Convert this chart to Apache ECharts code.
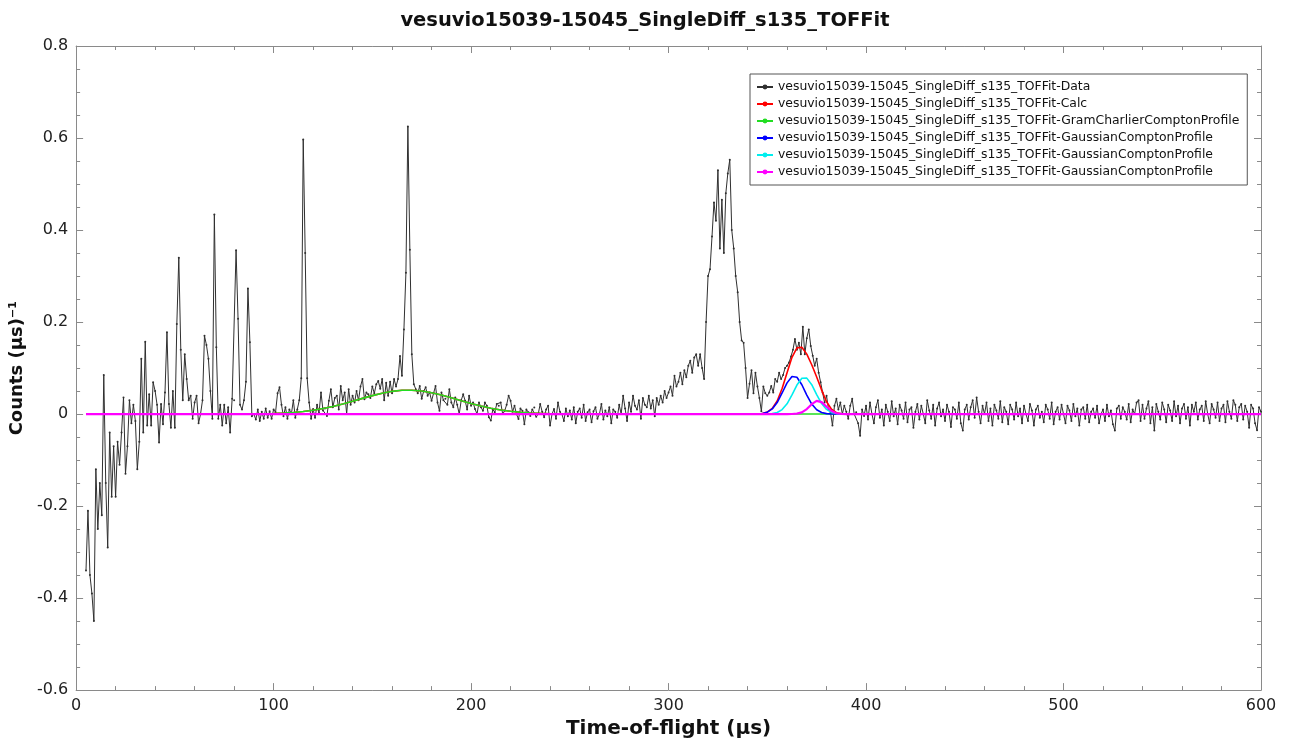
<!DOCTYPE html>
<html lang="en">
<head>
<meta charset="UTF-8">
<title>vesuvio15039-15045_SingleDiff_s135_TOFFit</title>
<script src="https://cdn.jsdelivr.net/npm/echarts@6/dist/echarts.min.js"></script>
<style>
    html, body { margin: 0; padding: 0; background: #fff; }
    #main { width: 1290px; height: 744px; }
</style>
</head>
<body>
<div id="main"></div>
<script>
// time-of-flight grid of the data (µs)
const tofStart = 5;
const tofStep = 1;

// measured counts, one per µs from 5 to 600
const counts = [
    -0.34, -0.21, -0.35, -0.39, -0.45,                                  // 5
    -0.12, -0.25, -0.15, -0.22, 0.085, -0.15, -0.29, -0.04, -0.18, -0.07, // 10
    -0.18, -0.06, -0.11, -0.04, 0.036, -0.13, -0.07, 0.03, -0.02, 0.02,  // 20
    -0.015, -0.12, -0.06, 0.12, -0.04, 0.157, -0.025, 0.043, -0.025, 0.069, // 30
    0.05, 0.02, -0.062, 0.022, -0.022, 0.047, 0.178, 0.022, -0.03, 0.05, // 40
    -0.03, 0.196, 0.34, 0.14, 0.03, 0.13, 0.076, 0.03, 0.04, -0.01,     // 50
    0.025, 0.04, -0.02, 0.0, 0.03, 0.17, 0.15, 0.12, 0.05, -0.01,       // 60
    0.434, 0.145, -0.01, 0.02, -0.025, 0.02, -0.02, 0.015, -0.04, 0.033, // 70
    0.03, 0.356, 0.207, 0.02, 0.01, 0.03, 0.07, 0.273, 0.156, -0.005,    // 80
    0.0, -0.012, 0.01, -0.015, 0.005, -0.01, 0.012, -0.008, 0.006, -0.01, // 90
    0.01, 0.004, 0.045, 0.058, 0.02, -0.005, 0.015, -0.01, 0.01, 0.0,    // 100
    0.03, -0.008, 0.01, 0.03, 0.078, 0.597, 0.35, 0.078, 0.025, -0.01,   // 110
    0.011, -0.008, 0.02, 0.002, 0.047, 0.008, 0.012, -0.004, 0.029, 0.054, // 120
    0.015, 0.035, 0.04, 0.01, 0.061, 0.03, 0.047, 0.0, 0.054, 0.02,      // 130
    0.04, 0.025, 0.05, 0.03, 0.06, 0.076, 0.032, 0.047, 0.043, 0.035,    // 140
    0.06, 0.045, 0.065, 0.072, 0.055, 0.076, 0.03, 0.068, 0.04, 0.07,    // 150
    0.045, 0.076, 0.06, 0.076, 0.126, 0.083, 0.184, 0.307, 0.625, 0.357, // 160
    0.13, 0.065, 0.054, 0.045, 0.061, 0.033, 0.05, 0.058, 0.04, 0.047,   // 170
    0.029, 0.045, 0.061, 0.025, 0.007, 0.047, 0.03, 0.033, 0.02, 0.054,  // 180
    0.025, 0.015, 0.036, 0.02, 0.0, 0.03, 0.043, 0.029, 0.01, 0.04,      // 190
    0.018, 0.025, 0.011, 0.0, 0.025, 0.015, 0.007, 0.025, 0.018, -0.007, // 200
    -0.014, 0.01, 0.004, 0.022, 0.018, 0.025, 0.0, 0.007, 0.02, 0.04,    // 210
    0.029, 0.005, 0.018, 0.0, -0.011, 0.012, 0.007, -0.022, 0.01, 0.004, // 220
    -0.004, 0.01, 0.014, -0.006, 0.0, 0.022, 0.005, -0.007, 0.01, 0.018, // 230
    -0.025, 0.0, 0.011, -0.01, 0.025, 0.005, 0.0, -0.015, 0.012, -0.005, // 240
    0.008, -0.012, 0.015, -0.02, 0.005, 0.012, -0.008, 0.02, -0.015, 0.004, // 250
    0.01, -0.018, 0.006, 0.015, -0.01, 0.0, 0.022, -0.012, 0.008, -0.005, // 260
    0.015, -0.02, 0.01, 0.005, -0.008, 0.02, 0.0, 0.04, 0.012, -0.015,   // 270
    0.025, 0.005, 0.04, 0.018, 0.01, 0.03, -0.01, 0.035, 0.02, 0.015,    // 280
    0.04, 0.012, 0.03, -0.005, 0.035, 0.02, 0.04, 0.025, 0.05, 0.035,    // 290
    0.047, 0.06, 0.04, 0.083, 0.06, 0.07, 0.09, 0.065, 0.095, 0.08,      // 300
    0.105, 0.116, 0.09, 0.123, 0.13, 0.105, 0.13, 0.1, 0.076, 0.2,       // 310
    0.3, 0.315, 0.386, 0.46, 0.42, 0.53, 0.36, 0.466, 0.35, 0.48,        // 320
    0.523, 0.553, 0.4, 0.36, 0.3, 0.265, 0.2, 0.16, 0.155, 0.1,          // 330
    0.035, 0.066, 0.095, 0.045, 0.09, 0.06, 0.035, 0.006, 0.06, 0.045,   // 340
    0.04, 0.047, 0.061, 0.047, 0.076, 0.07, 0.09, 0.076, 0.085, 0.1,     // 350
    0.105, 0.112, 0.125, 0.14, 0.163, 0.14, 0.155, 0.13, 0.19, 0.13,     // 360
    0.165, 0.184, 0.148, 0.127, 0.105, 0.12, 0.09, 0.069, 0.047, 0.025,  // 370
    0.04, 0.01, 0.004, -0.025, 0.018, 0.033, 0.01, 0.025, 0.0, 0.018,    // 380
    0.005, -0.01, 0.018, 0.033, 0.0, 0.004, -0.02, -0.047, 0.01, -0.004, // 390
    0.018, -0.012, 0.025, 0.0, -0.02, 0.015, 0.03, -0.008, 0.01, -0.025, // 400
    0.02, 0.005, -0.015, 0.028, -0.005, 0.012, -0.022, 0.02, 0.008, -0.01, // 410
    0.025, -0.018, 0.01, 0.015, -0.03, 0.005, 0.022, -0.012, 0.018, 0.0, // 420
    -0.02, 0.03, 0.008, -0.01, 0.02, -0.025, 0.012, 0.025, -0.005, 0.01, // 430
    -0.015, 0.02, 0.005, -0.028, 0.015, 0.01, -0.01, 0.025, -0.02, -0.036, // 440
    0.01, 0.02, -0.012, 0.015, 0.03, -0.008, 0.036, 0.005, -0.02, 0.018, // 450
    0.0, 0.025, -0.015, 0.012, -0.025, 0.02, 0.008, -0.01, 0.028, -0.018, // 460
    0.015, 0.005, -0.022, 0.02, 0.01, -0.012, 0.025, -0.005, 0.012, -0.02, // 470
    0.018, 0.0, -0.015, 0.022, 0.008, -0.025, 0.01, 0.018, -0.008, 0.005, // 480
    -0.018, 0.02, 0.01, -0.01, 0.025, -0.022, 0.005, 0.015, -0.012, 0.02, // 490
    0.0, -0.02, 0.018, 0.008, -0.015, 0.022, -0.005, 0.012, -0.025, 0.01, // 500
    0.015, -0.01, 0.02, -0.018, 0.005, 0.012, -0.008, 0.018, -0.02, 0.0, // 510
    0.01, -0.015, 0.02, -0.005, 0.008, -0.022, -0.036, 0.012, 0.018, -0.01, // 520
    0.015, 0.005, -0.012, 0.022, -0.018, 0.01, 0.0, 0.025, 0.03, -0.015, // 530
    0.02, -0.01, 0.012, 0.028, -0.02, 0.015, -0.036, 0.022, 0.005, -0.012, // 540
    0.025, 0.01, -0.018, 0.02, 0.008, -0.015, 0.028, -0.005, 0.018, -0.02, // 550
    0.012, 0.022, -0.01, 0.015, -0.025, 0.02, 0.005, 0.025, -0.012, 0.01, // 560
    0.018, -0.015, 0.028, 0.0, -0.02, 0.022, 0.01, -0.008, 0.025, -0.015, // 570
    0.012, 0.02, -0.018, 0.028, 0.005, -0.01, 0.03, 0.02, -0.015, 0.015, // 580
    0.022, -0.012, 0.018, 0.005, -0.03, 0.02, 0.012, -0.02, -0.035, 0.015, // 590
    0.005                                                                // 600
];

// fit curves, sampled where they change
const fitTof = [
    5, 85,
    90, 95, 100, 105, 110, 115, 120, 125, 130, 135, 140, 145, 150, 155, 160, 165, 170,
    175, 180, 185, 190, 195, 200, 205, 210, 215, 220, 225, 230, 235, 240, 245, 250, 255,
    340, 342.5, 345, 347.5, 350, 352.5, 355, 357.5, 360, 362.5, 365, 367.5, 370,
    372.5, 375, 377.5, 380, 382.5, 385, 387.5, 390, 392.5,
    600
];
const calcFit = [
    0, 0.0002,
    0.0004, 0.0007, 0.0013, 0.0022, 0.0035, 0.0055, 0.0082, 0.0119, 0.0164, 0.0218, 0.0278, 0.0341, 0.0401, 0.0454, 0.0494, 0.0516, 0.0518,
    0.0500, 0.0463, 0.0413, 0.0353, 0.0290, 0.0229, 0.0174, 0.0127, 0.0089, 0.0060, 0.0039, 0.0024, 0.0014, 0.0008, 0.0004, 0.0002, 0.0001,
    0, 0.0001, 0.0003, 0.0012, 0.0043, 0.0122, 0.0285, 0.0555, 0.0900, 0.1233, 0.1439, 0.1452, 0.1303,
    0.1071, 0.0804, 0.0521, 0.0268, 0.0104, 0.0028, 0.0005, 0, 0,
    0
];
const gramCharlierFit = [
    0, 0.0002,
    0.0004, 0.0007, 0.0013, 0.0022, 0.0035, 0.0055, 0.0082, 0.0119, 0.0164, 0.0218, 0.0278, 0.0341, 0.0401, 0.0454, 0.0494, 0.0516, 0.0518,
    0.0500, 0.0463, 0.0413, 0.0353, 0.0290, 0.0229, 0.0174, 0.0127, 0.0089, 0.0060, 0.0039, 0.0024, 0.0014, 0.0008, 0.0004, 0.0002, 0.0001,
    0, 0, 0, 0, 0, 0, 0, 0, 0, 0, 0, 0, 0,
    0, 0, 0, 0, 0, 0, 0, 0, 0,
    0
];
const gaussFit1 = [
    0, 0,
    0, 0, 0, 0, 0, 0, 0, 0, 0, 0, 0, 0, 0, 0, 0, 0, 0,
    0, 0, 0, 0, 0, 0, 0, 0, 0, 0, 0, 0, 0, 0, 0, 0, 0,
    0, 0.0001, 0.0003, 0.0012, 0.0041, 0.0112, 0.0251, 0.0458, 0.0678, 0.0817, 0.0800, 0.0637, 0.0413,
    0.0218, 0.0093, 0.0033, 0.0009, 0.0002, 0, 0, 0, 0,
    0
];
const gaussFit2 = [
    0, 0,
    0, 0, 0, 0, 0, 0, 0, 0, 0, 0, 0, 0, 0, 0, 0, 0, 0,
    0, 0, 0, 0, 0, 0, 0, 0, 0, 0, 0, 0, 0, 0, 0, 0, 0,
    0, 0, 0, 0, 0.0002, 0.0010, 0.0034, 0.0097, 0.0222, 0.0415, 0.0630, 0.0778, 0.0781,
    0.0638, 0.0424, 0.0229, 0.0101, 0.0036, 0.0010, 0.0002, 0, 0,
    0
];
const gaussFit3 = [
    0, 0,
    0, 0, 0, 0, 0, 0, 0, 0, 0, 0, 0, 0, 0, 0, 0, 0, 0,
    0, 0, 0, 0, 0, 0, 0, 0, 0, 0, 0, 0, 0, 0, 0, 0, 0,
    0, 0, 0, 0, 0, 0, 0, 0, 0, 0.0001, 0.0009, 0.0037, 0.0109,
    0.0215, 0.0287, 0.0259, 0.0158, 0.0066, 0.0018, 0.0003, 0, 0,
    0
];

const seriesNames = [
    'vesuvio15039-15045_SingleDiff_s135_TOFFit-Data',
    'vesuvio15039-15045_SingleDiff_s135_TOFFit-Calc',
    'vesuvio15039-15045_SingleDiff_s135_TOFFit-GramCharlierComptonProfile',
    'vesuvio15039-15045_SingleDiff_s135_TOFFit-GaussianComptonProfile',
    'vesuvio15039-15045_SingleDiff_s135_TOFFit-GaussianComptonProfile\u200b',
    'vesuvio15039-15045_SingleDiff_s135_TOFFit-GaussianComptonProfile\u200b\u200b'
];
const seriesColors = ['#303030', '#ff0000', '#22dd22', '#0000ff', '#00eeee', '#ff00ff'];

var dataPoints = counts.map(function (v, i) { return [tofStart + i * tofStep, v]; });
function fitPoints(vals) {
    return vals.map(function (v, i) { return [fitTof[i], v]; });
}

var font = 'DejaVu Sans';
var chart = echarts.init(document.getElementById('main'));

function fitSeries(idx, vals, width) {
    return {
        name: seriesNames[idx],
        type: 'line',
        data: fitPoints(vals),
        showSymbol: false,
        symbol: 'circle',
        symbolSize: 3,
        lineStyle: {color: seriesColors[idx], width: width},
        itemStyle: {color: seriesColors[idx]},
        z: 3 + idx
    };
}

var frameAxis = {
    axisLine: {show: true, onZero: false, lineStyle: {color: '#8a8a8a', width: 1}},
    axisTick: {show: true, inside: true, length: 7, lineStyle: {color: '#8a8a8a'}},
    splitLine: {show: false}
};

var option = {
    animation: false,
    backgroundColor: '#fff',
    title: {
        text: 'vesuvio15039-15045_SingleDiff_s135_TOFFit',
        left: 'center',
        top: 6,
        textStyle: {fontFamily: font, fontWeight: 'bold', fontSize: 19.5, color: '#111'}
    },
    legend: {
        orient: 'vertical',
        left: 750,
        top: 74,
        backgroundColor: '#fff',
        borderColor: '#555',
        borderWidth: 1,
        borderRadius: 0,
        padding: [6, 8, 6, 6],
        itemGap: 3,
        itemWidth: 16,
        itemHeight: 6,
        data: seriesNames,
        formatter: function (name) { return name.replace(/\u200b/g, ''); },
        textStyle: {fontFamily: font, fontSize: 12.4, color: '#111', lineHeight: 14}
    },
    grid: {left: 73, right: 29, top: 46, bottom: 52, containLabel: false},
    xAxis: [
        Object.assign({}, frameAxis, {
            type: 'value', min: 0, max: 600, interval: 100,
            position: 'bottom',
            name: 'Time-of-flight (µs)',
            nameLocation: 'middle',
            nameGap: 27,
            nameTextStyle: {fontFamily: font, fontWeight: 'bold', fontSize: 20, color: '#111'},
            minorTick: {show: true, splitNumber: 5, length: 4, lineStyle: {color: '#8a8a8a'}},
            axisLabel: {fontFamily: font, fontSize: 16, color: '#222', margin: 8}
        }),
        Object.assign({}, frameAxis, {
            type: 'value', min: 0, max: 600, interval: 100,
            position: 'top',
            minorTick: {show: true, splitNumber: 5, length: 4, lineStyle: {color: '#8a8a8a'}},
            axisLabel: {show: false}
        })
    ],
    yAxis: [
        Object.assign({}, frameAxis, {
            type: 'value', min: -0.6, max: 0.8, interval: 0.2,
            position: 'left',
            name: 'Counts (µs)⁻¹',
            nameLocation: 'middle',
            nameGap: 44,
            nameTextStyle: {fontFamily: font, fontWeight: 'bold', fontSize: 18, color: '#111'},
            minorTick: {show: true, splitNumber: 4, length: 4, lineStyle: {color: '#8a8a8a'}},
            axisLabel: {fontFamily: font, fontSize: 16, color: '#222', margin: 8}
        }),
        Object.assign({}, frameAxis, {
            type: 'value', min: -0.6, max: 0.8, interval: 0.2,
            position: 'right',
            minorTick: {show: true, splitNumber: 4, length: 4, lineStyle: {color: '#8a8a8a'}},
            axisLabel: {show: false}
        })
    ],
    series: [
        {
            name: seriesNames[0],
            type: 'line',
            data: dataPoints,
            showSymbol: true,
            showAllSymbol: true,
            symbol: 'circle',
            symbolSize: 2,
            lineStyle: {color: seriesColors[0], width: 1},
            itemStyle: {color: seriesColors[0]},
            z: 2
        },
        fitSeries(1, calcFit, 1.6),
        fitSeries(2, gramCharlierFit, 1.6),
        fitSeries(3, gaussFit1, 1.6),
        fitSeries(4, gaussFit2, 1.6),
        fitSeries(5, gaussFit3, 2.2)
    ]
};

chart.setOption(option);
</script>
</body>
</html>
